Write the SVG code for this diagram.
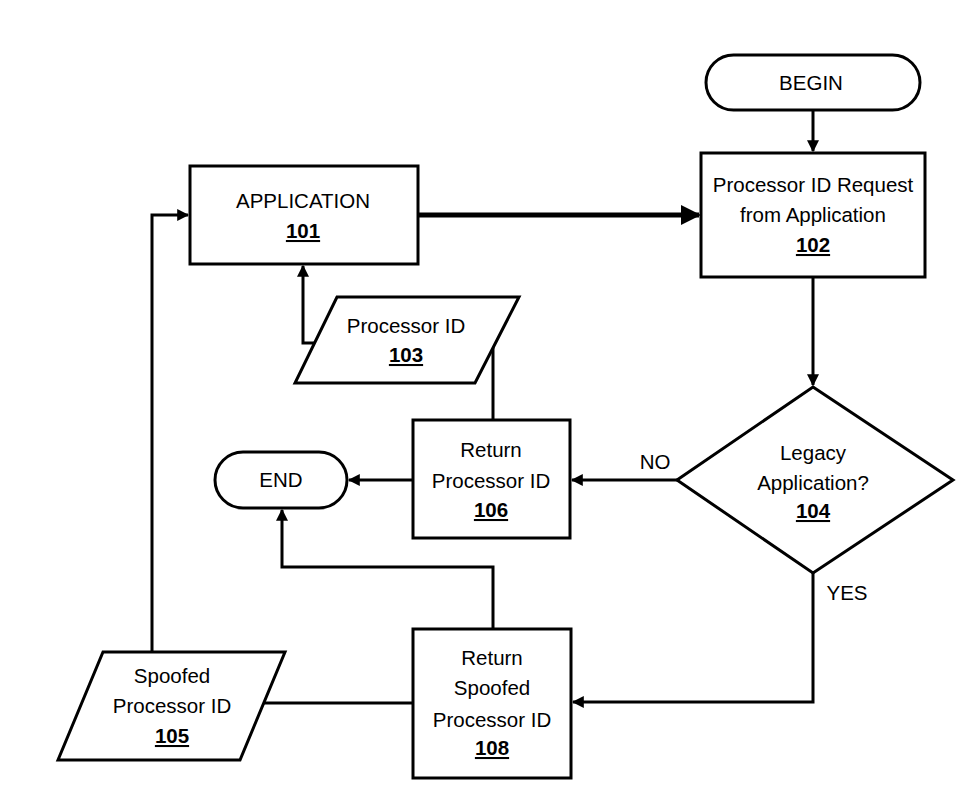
<svg xmlns="http://www.w3.org/2000/svg" width="971" height="799" viewBox="0 0 971 799">
<style>
.shape{fill:#fff;stroke:#000;stroke-width:3}
.t{font-family:"Liberation Sans",Arial,sans-serif;font-size:20.5px;fill:#000;text-anchor:middle}
.u{text-decoration:underline;font-weight:bold}
.c{fill:none;stroke:#000;stroke-width:3}
</style>
<defs>
<marker id="ah" viewBox="0 0 10 10" refX="9" refY="5" markerWidth="4" markerHeight="4" orient="auto" markerUnits="strokeWidth">
<path d="M0,0 L10,5 L0,10 z" fill="#000"/>
</marker>
</defs>
<rect width="971" height="799" fill="#fff"/>
<g id="connectors">
<path class="c" d="M813,110 V151" marker-end="url(#ah)"/>
<path class="c" style="stroke-width:5" d="M418,215 H699" marker-end="url(#ah)"/>
<path class="c" d="M813,277 V385" marker-end="url(#ah)"/>
<path class="c" d="M677,480 H572" marker-end="url(#ah)"/>
<path class="c" d="M413,480 H349" marker-end="url(#ah)"/>
<path class="c" d="M314,343 H303 V266" marker-end="url(#ah)"/>
<path class="c" d="M493,420 V344"/>
<path class="c" d="M493,629 V567 H282 V510" marker-end="url(#ah)"/>
<path class="c" d="M813,573 V702 H573" marker-end="url(#ah)"/>
<path class="c" d="M413,703 H264"/>
<path class="c" d="M152,652 V215 H188" marker-end="url(#ah)"/>
<text class="t" x="655" y="469">NO</text>
<text class="t" x="847" y="600">YES</text>
</g>
<g id="begin">
<rect class="shape" x="706" y="55" width="214" height="55" rx="27.5"/>
<text class="t" x="811" y="90">BEGIN</text>
</g>
<g id="n101">
<rect class="shape" x="190" y="166" width="228" height="98"/>
<text class="t" x="303" y="208">APPLICATION</text>
<text class="t u" x="303" y="238">101</text>
</g>
<g id="n102">
<rect class="shape" x="701" y="153" width="224" height="124"/>
<text class="t" x="813" y="192">Processor ID Request</text>
<text class="t" x="813" y="222">from Application</text>
<text class="t u" x="813" y="252">102</text>
</g>
<g id="n103">
<polygon class="shape" points="337,297 519,297 475,383 295,383"/>
<text class="t" x="406" y="333">Processor ID</text>
<text class="t u" x="406" y="362">103</text>
</g>
<g id="n104">
<polygon class="shape" points="813,387 953,480 813,573 677,480"/>
<text class="t" x="813" y="460">Legacy</text>
<text class="t" x="813" y="490">Application?</text>
<text class="t u" x="813" y="518">104</text>
</g>
<g id="n106">
<rect class="shape" x="413" y="420" width="157" height="118"/>
<text class="t" x="491" y="457">Return</text>
<text class="t" x="491" y="488">Processor ID</text>
<text class="t u" x="491" y="517">106</text>
</g>
<g id="end">
<rect class="shape" x="215" y="452" width="132" height="56" rx="28"/>
<text class="t" x="281" y="487">END</text>
</g>
<g id="n108">
<rect class="shape" x="413" y="629" width="158" height="149"/>
<text class="t" x="492" y="665">Return</text>
<text class="t" x="492" y="695">Spoofed</text>
<text class="t" x="492" y="727">Processor ID</text>
<text class="t u" x="492" y="755">108</text>
</g>
<g id="n105">
<polygon class="shape" points="103,652 285,652 240,760 58,760"/>
<text class="t" x="172" y="683">Spoofed</text>
<text class="t" x="172" y="713">Processor ID</text>
<text class="t u" x="172" y="743">105</text>
</g>
</svg>
